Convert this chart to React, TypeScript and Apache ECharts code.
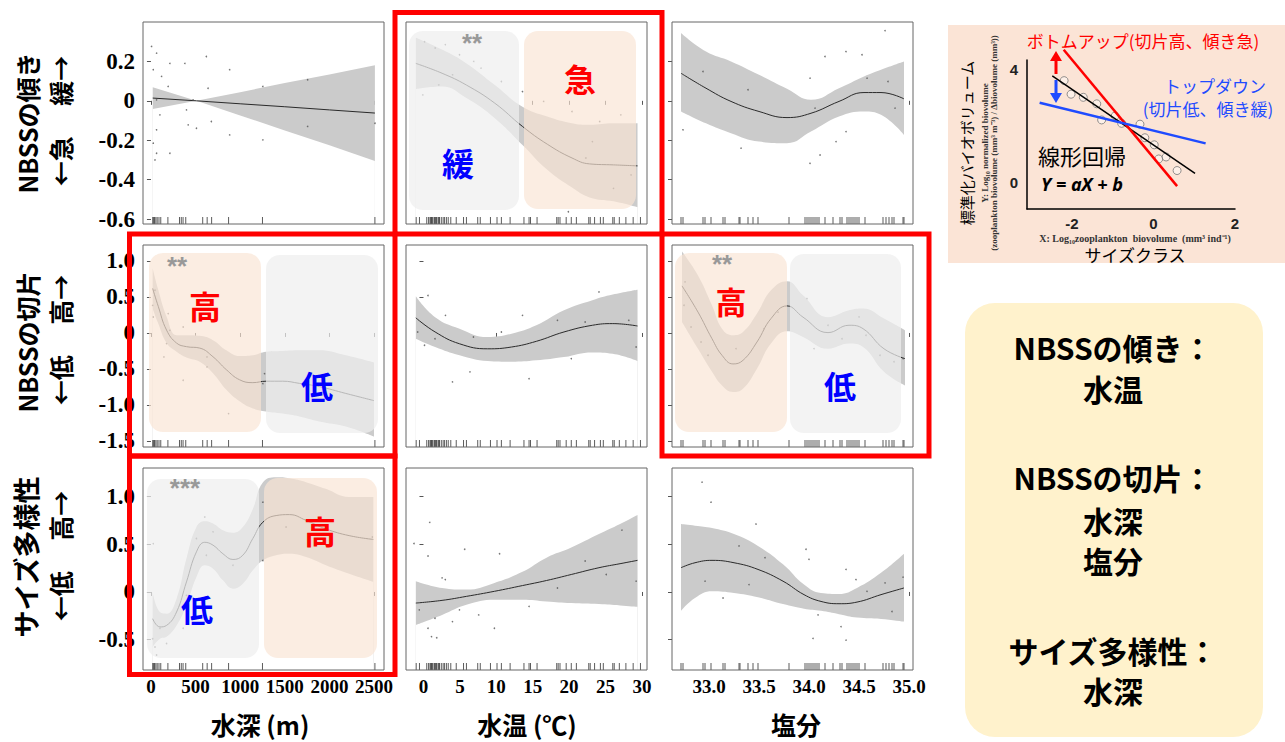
import React, { useEffect, useRef } from "react";
import * as echarts from "echarts";

// ---------- tick labels ----------
const depthTicks = [0, 500, 1000, 1500, 2000, 2500];
const tempTicks = [0, 5, 10, 15, 20, 25, 30];
const salTicks = [33.0, 33.5, 34.0, 34.5, 35.0];
const slopeTicks = [-0.6, -0.4, -0.2, 0, 0.2];
const interceptTicks = [-1.5, -1.0, -0.5, 0, 0.5, 1.0];
const diversityTicks = [-0.5, 0, 0.5, 1.0];

// ---------- rugs (observations) ----------
const depthRug = [20, 30, 40, 55, 70, 90, 110, 190, 320, 340, 360, 390, 580, 630, 680, 870, 1250, 2510];
const tempRug = [-1.0, -0.55, 0.45, 0.7, 0.9, 1.0, 1.1, 1.2, 1.3, 1.5, 1.6, 1.7, 1.8, 2.0, 2.1, 2.2, 2.45, 2.7, 2.9, 3.15, 3.4, 3.75, 4.5, 5.5, 5.9, 7.45, 7.8, 9.2, 10.1, 10.7, 11.9, 13.8, 14.5, 14.7, 15.6, 18.3, 18.5, 18.75, 19.6, 20.3, 21.0, 22.7, 22.9, 23.5, 24.3, 24.7, 26.0, 26.2, 26.9, 27.8, 28.8, 29.8];
const salRug = [32.72, 32.74, 32.94, 32.96, 33.02, 33.14, 33.16, 33.30, 33.31, 33.39, 33.44, 33.49, 33.80, 33.96, 33.98, 34.00, 34.02, 34.04, 34.06, 34.08, 34.10, 34.16, 34.24, 34.31, 34.33, 34.38, 34.40, 34.42, 34.44, 34.46, 34.48, 34.50, 34.56, 34.74, 34.77, 34.80, 34.83, 34.85, 34.94, 34.95];

// ---------- Row 1: NBSS slope ----------
const slopeDepthX = [20, 510, 1000, 1500, 2000, 2510];
const slopeDepthFit = [0.014, 0, -0.015, -0.030, -0.046, -0.062];
const slopeDepthHi = [0.069, 0, 0.044, 0.090, 0.134, 0.181];
const slopeDepthLo = [-0.042, 0, -0.074, -0.150, -0.226, -0.305];
const slopeDepthPtsX = [7, 63, 26, 119, 63, 193, 212, 100, 63, 26, 63, 45, 212, 380, 398, 472, 417, 510, 621, 640, 677, 882, 882, 1254, 1254, 1756, 1756, 2511];
const slopeDepthPtsY = [0.276, 0.242, 0.158, 0.124, 0.005, 0.073, 0.19, -0.071, -0.147, -0.215, -0.266, -0.3, -0.266, 0.19, -0.046, 0.005, -0.122, -0.139, 0.225, 0.064, -0.105, 0.158, -0.173, 0.073, -0.198, 0.107, -0.13, -0.114];

const slopeTempX = [-1.05, 2.55, 5.9, 9.8, 13.6, 17.0, 20.4, 22.8, 26.1, 29.4];
const slopeTempFit = [0.19, 0.14, 0.08, -0.012, -0.13, -0.22, -0.29, -0.32, -0.325, -0.33];
const slopeTempHi = [0.32, 0.26, 0.19, 0.08, -0.03, -0.08, -0.114, -0.122, -0.114, -0.114];
const slopeTempLo = [0.06, 0.073, 0.014, -0.088, -0.224, -0.35, -0.44, -0.49, -0.51, -0.54];
const slopeTempPtsX = [0.15, 1.6, 3.0, 4.0, 2.1, -0.1, 4.95, 7.9, 10.7, 16.5, 20.4, 23.2, 24.2, 27.1, 28.5, 26.1, 19.9, 22.3, 13.6, 6.9];
const slopeTempPtsY = [0.30, 0.268, 0.285, 0.132, 0.081, 0.03, 0.234, 0.166, 0.098, -0.003, -0.054, -0.207, -0.105, -0.071, -0.376, -0.444, -0.563, -0.29, 0.047, 0.2];

const slopeSalX = [32.72, 32.97, 33.22, 33.50, 33.78, 34.02, 34.30, 34.55, 34.72, 34.95];
const slopeSalFit = [0.14, 0.064, -0.003, -0.054, -0.085, -0.063, -0.003, 0.042, 0.042, 0.01];
const slopeSalHi = [0.344, 0.25, 0.2, 0.132, 0.061, 0.005, 0.064, 0.124, 0.158, 0.2];
const slopeSalLo = [-0.054, -0.114, -0.164, -0.207, -0.215, -0.156, -0.08, -0.054, -0.071, -0.173];
const slopeSalPtsX = [34.76, 34.16, 34.37, 34.53, 34.01, 34.06, 34.11, 34.01, 34.27, 34.37, 34.86, 33.32, 32.74, 32.94, 33.39, 34.79, 34.58];
const slopeSalPtsY = [0.356, 0.225, 0.25, 0.234, 0.115, -0.037, -0.275, -0.317, -0.207, -0.156, -0.037, -0.24, -0.147, 0.149, 0.056, 0.098, 0.115];

// ---------- Row 2: NBSS intercept ----------
const intDepthX = [19, 82, 175, 287, 398, 547, 695, 845, 993, 1142, 1291, 1477, 1663, 1886, 2184, 2500];
const intDepthFit = [0.62, 0.37, 0.04, -0.14, -0.19, -0.21, -0.33, -0.51, -0.65, -0.69, -0.67, -0.67, -0.70, -0.745, -0.84, -0.94];
const intDepthHi = [0.90, 0.60, 0.23, -0.03, -0.03, -0.04, -0.10, -0.24, -0.32, -0.31, -0.26, -0.25, -0.24, -0.24, -0.31, -0.41];
const intDepthLo = [0.34, 0.13, -0.14, -0.26, -0.34, -0.40, -0.56, -0.79, -0.95, -1.05, -1.09, -1.12, -1.16, -1.23, -1.30, -1.44];
const intDepthPtsX = [19, 45, 26, 193, 212, 361, 361, 145, 175, 628, 870, 1254, 1273, 628];
const intDepthPtsY = [0.384, 0.593, 0.222, 0.269, 0.037, 0.083, -0.657, -0.333, -0.148, -0.472, -1.12, -0.704, -0.565, -0.333];

const intTempX = [-1.05, 1.6, 4.95, 8.8, 12.1, 15.5, 19.3, 23.2, 26.0, 29.4];
const intTempFit = [0.21, 0.014, -0.15, -0.22, -0.195, -0.116, 0.014, 0.107, 0.13, 0.097];
const intTempHi = [0.51, 0.22, 0.06, -0.056, -0.01, 0.107, 0.315, 0.455, 0.533, 0.60];
const intTempLo = [-0.08, -0.195, -0.31, -0.39, -0.40, -0.38, -0.334, -0.27, -0.29, -0.39];
const intTempPtsX = [-0.8, 0.14, 1.58, 0.62, 3.02, 3.98, 6.38, 6.86, 10.7, 13.6, 14.5, 18.4, 20.3, 22.2, 24.1, 28.2, 29.2];
const intTempPtsY = [0.014, -0.17, -0.08, 0.52, 0.245, -0.68, -0.54, -0.056, 0.014, 0.245, -0.635, 0.176, -0.357, 0.153, 0.57, 0.176, -0.195];

const intSalX = [32.73, 32.89, 33.03, 33.13, 33.24, 33.34, 33.48, 33.62, 33.78, 33.94, 34.19, 34.40, 34.54, 34.75, 34.96];
const intSalFit = [0.654, 0.29, -0.08, -0.31, -0.43, -0.38, -0.125, 0.2, 0.376, 0.22, 0.005, 0.107, 0.06, -0.22, -0.357];
const intSalHi = [1.13, 0.80, 0.385, 0.06, -0.03, 0.014, 0.27, 0.594, 0.72, 0.524, 0.22, 0.315, 0.34, 0.2, 0.037];
const intSalLo = [0.153, -0.22, -0.54, -0.73, -0.82, -0.775, -0.496, -0.148, 0.023, -0.056, -0.22, -0.148, -0.195, -0.54, -0.73];
const intSalPtsX = [32.75, 32.76, 32.82, 32.92, 32.99, 33.27, 33.55, 33.69, 33.98, 34.05, 34.19, 34.33, 34.50, 34.57, 34.71, 34.85, 34.94];
const intSalPtsY = [0.385, 0.71, 0.083, -0.125, -0.31, -0.218, 0.06, 0.29, 0.478, -0.218, 0.107, -0.08, 0.223, -0.032, -0.31, -0.40, -0.357];

// ---------- Row 3: size diversity ----------
const divDepthX = [19, 101, 175, 287, 398, 510, 603, 696, 807, 919, 1030, 1142, 1254, 1403, 1552, 1738, 1961, 2221, 2493];
const divDepthFit = [-0.28, -0.366, -0.35, -0.21, 0.105, 0.42, 0.52, 0.49, 0.40, 0.34, 0.385, 0.56, 0.73, 0.80, 0.81, 0.75, 0.66, 0.59, 0.55];
const divDepthHi = [0.0, -0.21, -0.227, -0.07, 0.35, 0.68, 0.74, 0.716, 0.645, 0.62, 0.68, 0.87, 1.145, 1.2, 1.19, 1.15, 1.08, 0.995, 0.995];
const divDepthLo = [-0.576, -0.49, -0.47, -0.35, -0.14, 0.157, 0.28, 0.244, 0.122, 0.035, 0.087, 0.227, 0.33, 0.384, 0.40, 0.366, 0.28, 0.19, 0.105];
const divDepthPtsX = [19, 45, 63, 101, 26, 175, 361, 398, 510, 621, 603, 696, 919, 1254, 1254, 1514, 2481];
const divDepthPtsY = [-0.49, -0.576, -0.66, -0.38, 0.506, -0.54, -0.38, -0.035, 0.56, 0.384, 0.785, 0.63, 0.28, 0.94, 0.33, 0.68, 0.576];

const divTempX = [-1.05, 2.55, 5.9, 9.75, 13.6, 16.9, 20.3, 24.1, 27.0, 29.4];
const divTempFit = [-0.116, -0.088, -0.046, 0.007, 0.067, 0.12, 0.183, 0.254, 0.296, 0.331];
const divTempHi = [0.113, 0.042, 0.025, 0.095, 0.211, 0.359, 0.465, 0.606, 0.711, 0.806];
const divTempLo = [-0.345, -0.24, -0.134, -0.081, -0.081, -0.099, -0.116, -0.127, -0.141, -0.155];
const divTempPtsX = [-1.3, 0.62, 0.86, -0.58, 0.62, 1.1, 1.82, 1.58, 2.55, 3.0, 3.98, 4.94, 5.66, 7.58, 9.74, 10.45, 14.5, 18.4, 22.2, 25.1, 27.25, 29.2];
const divTempPtsY = [0.507, 0.377, 0.729, -0.187, -0.38, -0.468, -0.479, -0.275, 0.148, 0.13, -0.31, -0.187, 0.447, -0.24, -0.38, 0.4, -0.151, 0.042, 0.324, 0.183, 0.648, 0.113];

const divSalX = [32.72, 32.86, 33.03, 33.25, 33.49, 33.74, 33.95, 34.12, 34.30, 34.48, 34.72, 34.95];
const divSalFit = [0.254, 0.306, 0.331, 0.306, 0.236, 0.113, -0.028, -0.099, -0.123, -0.106, -0.028, 0.042];
const divSalHi = [0.711, 0.694, 0.669, 0.606, 0.482, 0.289, 0.077, -0.011, -0.021, 0.042, 0.2, 0.4];
const divSalLo = [-0.197, -0.063, 0.007, -0.011, -0.056, -0.127, -0.176, -0.197, -0.232, -0.268, -0.282, -0.31];
const divSalPtsX = [32.93, 33.02, 32.96, 33.14, 33.30, 33.40, 33.47, 33.56, 33.97, 34.00, 34.04, 34.09, 34.32, 34.37, 34.37, 34.47, 34.58, 34.76, 34.83, 34.94];
const divSalPtsY = [1.15, 0.94, 0.113, -0.063, 0.482, 0.077, 0.711, 0.359, 0.447, 0.342, -0.486, -0.24, -0.363, -0.504, 0.236, 0.13, 0.007, 0.095, -0.204, 0.155];

// ---------- Inset (NBSS schematic) ----------
const insetPtsX = [-2.19, -2.02, -1.72, -1.39, -1.27, -0.94, -0.78, -0.33, -0.21, 0.02, 0.13, 0.31, 0.58];
const insetPtsY = [3.62, 3.14, 3.03, 2.80, 2.23, 2.37, 2.11, 2.08, 1.60, 1.35, 0.85, 0.92, 0.44];
const insetBlackX = [-2.48, 1.02];
const insetBlackY = [3.79, 0.34];
const insetRedX = [-2.20, 0.58];
const insetRedY = [4.71, -0.11];
const insetBlueX = [-2.79, 1.28];
const insetBlueY = [2.84, 1.40];
const insetXTicks = [-2, 0, 2];
const insetYTicks = [0, 4];

const FONT_JP = '"Noto Sans CJK JP", "Noto Sans", sans-serif';
const FONT_SERIF = '"Liberation Serif", "Times New Roman", serif';

const colLeft = [143, 406, 672];
const rowTop = [22, 245, 468];
const PW = 241;
const PH = 202;
const xRange = [[-89, 2612], [-2.4, 30.7], [32.63, 35.04]];
const yRange = [[-0.625, 0.40], [-1.584, 1.222], [-0.817, 1.298]];
const xTickSets = [depthTicks, tempTicks, salTicks];
const yTickSets = [slopeTicks, interceptTicks, diversityTicks];
const rugSets = [depthRug, tempRug, salRug];

const SM = 0.45;
const panels = [
  { x: slopeDepthX, fit: slopeDepthFit, hi: slopeDepthHi, lo: slopeDepthLo, px: slopeDepthPtsX, py: slopeDepthPtsY, smooth: false },
  { x: slopeTempX, fit: slopeTempFit, hi: slopeTempHi, lo: slopeTempLo, px: slopeTempPtsX, py: slopeTempPtsY, smooth: SM },
  { x: slopeSalX, fit: slopeSalFit, hi: slopeSalHi, lo: slopeSalLo, px: slopeSalPtsX, py: slopeSalPtsY, smooth: SM },
  { x: intDepthX, fit: intDepthFit, hi: intDepthHi, lo: intDepthLo, px: intDepthPtsX, py: intDepthPtsY, smooth: SM },
  { x: intTempX, fit: intTempFit, hi: intTempHi, lo: intTempLo, px: intTempPtsX, py: intTempPtsY, smooth: SM },
  { x: intSalX, fit: intSalFit, hi: intSalHi, lo: intSalLo, px: intSalPtsX, py: intSalPtsY, smooth: SM },
  { x: divDepthX, fit: divDepthFit, hi: divDepthHi, lo: divDepthLo, px: divDepthPtsX, py: divDepthPtsY, smooth: SM },
  { x: divTempX, fit: divTempFit, hi: divTempHi, lo: divTempLo, px: divTempPtsX, py: divTempPtsY, smooth: SM },
  { x: divSalX, fit: divSalFit, hi: divSalHi, lo: divSalLo, px: divSalPtsX, py: divSalPtsY, smooth: SM },
];

function txt(x: number, y: number, text: string, size: number, color: string, opts: any = {}) {
  return {
    type: "text",
    x,
    y,
    rotation: opts.rotation || 0,
    z: opts.z ?? 20,
    silent: true,
    style: {
      text,
      fill: color,
      fontSize: size,
      lineHeight: size,
      fontWeight: opts.weight || "bold",
      fontStyle: opts.italic ? "italic" : "normal",
      fontFamily: opts.family || FONT_JP,
      align: "center",
      verticalAlign: "middle",
      textAlign: "center",
      textVerticalAlign: "middle",
    },
  };
}

function roundBox(x: number, y: number, w: number, h: number, fill: string) {
  return { type: "rect", z: 10, silent: true, shape: { x, y, width: w, height: h, r: 14 }, style: { fill } };
}

function frame(x: number, y: number, w: number, h: number) {
  return { type: "rect", z: 30, silent: true, shape: { x, y, width: w, height: h }, style: { fill: "none", stroke: "#ff0000", lineWidth: 5 } };
}

function buildOption() {
  const grid: any[] = [];
  const xAxis: any[] = [];
  const yAxis: any[] = [];
  const series: any[] = [];
  const yTickFont = { fontFamily: FONT_SERIF, fontWeight: "bold", fontSize: 23, color: "#000" };
  const xTickFont = { fontFamily: FONT_SERIF, fontWeight: "bold", fontSize: 19, color: "#000" };

  panels.forEach((p, i) => {
    const row = Math.floor(i / 3);
    const col = i % 3;
    grid.push({ left: colLeft[col], top: rowTop[row], width: PW, height: PH, show: true, z: 4, borderColor: "#666", borderWidth: 1, backgroundColor: "transparent" });
    xAxis.push({
      type: "value", gridIndex: i, min: xRange[col][0], max: xRange[col][1],
      axisLine: { show: false }, splitLine: { show: false },
      axisTick: { show: true, customValues: xTickSets[col], length: 4, lineStyle: { color: "#555" } },
      axisLabel: {
        show: row === 2, customValues: xTickSets[col], margin: 7, ...xTickFont,
        formatter: (v: number) => (col === 2 ? v.toFixed(1) : String(v)),
      },
    });
    yAxis.push({
      type: "value", gridIndex: i, min: yRange[row][0], max: yRange[row][1],
      axisLine: { show: false }, splitLine: { show: false },
      axisTick: { show: true, customValues: yTickSets[row], length: 4, lineStyle: { color: "#555" } },
      axisLabel: {
        show: col === 0, customValues: yTickSets[row], margin: 8, ...yTickFont,
        formatter: (v: number) => (Math.abs(v) < 1e-9 ? "0" : v.toFixed(1)),
      },
    });
    const base = { xAxisIndex: i, yAxisIndex: i, silent: true, animation: false };
    // confidence band: upper bound filled grey down to the axis start, lower bound filled white
    series.push({
      ...base, type: "line", symbol: "none", smooth: p.smooth,
      lineStyle: { width: 0, opacity: 0 }, areaStyle: { color: "#cbcbcb", opacity: 1, origin: "start" },
      data: p.x.map((v, k) => [v, p.hi[k]]), z: 1,
    });
    series.push({
      ...base, type: "line", symbol: "none", smooth: p.smooth,
      lineStyle: { width: 0, opacity: 0 }, areaStyle: { color: "#ffffff", opacity: 1, origin: "start" },
      data: p.x.map((v, k) => [v, p.lo[k]]), z: 2,
    });
    series.push({
      ...base, type: "line", symbol: "none", smooth: p.smooth,
      lineStyle: { color: "#2a2a2a", width: 1 }, data: p.x.map((v, k) => [v, p.fit[k]]), z: 3,
    });
    series.push({
      ...base, type: "scatter", symbolSize: 1.6, itemStyle: { color: "#555" },
      data: p.px.map((v, k) => [v, p.py[k]]), z: 3,
    });
    series.push({
      ...base, type: "scatter", symbol: "rect", symbolSize: [1, 7], symbolOffset: [0, -3.5], clip: false,
      itemStyle: { color: "#333" }, data: rugSets[col].map((v) => [v, yRange[row][0]]), z: 3,
    });
  });

  // Inset schematic
  const ii = 9;
  grid.push({ left: 1027, top: 60, width: 208, height: 149, show: false });
  xAxis.push({
    type: "value", gridIndex: ii, min: -3.1, max: 2.0,
    axisLine: { show: true, onZero: false, lineStyle: { color: "#000", width: 1.5 } }, splitLine: { show: false }, axisTick: { show: false },
    axisLabel: { customValues: insetXTicks, margin: 7, fontSize: 15, fontWeight: "bold", color: "#222", fontFamily: "Liberation Sans, Arial, sans-serif" },
  });
  yAxis.push({
    type: "value", gridIndex: ii, min: -0.92, max: 4.35,
    axisLine: { show: true, onZero: false, lineStyle: { color: "#000", width: 1.5 } }, splitLine: { show: false }, axisTick: { show: false },
    axisLabel: { customValues: insetYTicks, margin: 9, fontSize: 15, fontWeight: "bold", color: "#222", fontFamily: "Liberation Sans, Arial, sans-serif" },
  });
  const ib = { xAxisIndex: ii, yAxisIndex: ii, silent: true };
  series.push({
    ...ib, type: "scatter", symbol: "circle", symbolSize: 8, z: 2,
    itemStyle: { color: "rgba(255,255,255,0.55)", borderColor: "#777", borderWidth: 1 },
    data: insetPtsX.map((v, k) => [v, insetPtsY[k]]),
  });
  series.push({ ...ib, type: "line", symbol: "none", clip: false, z: 3, lineStyle: { color: "#000", width: 1.5 }, data: insetBlackX.map((v, k) => [v, insetBlackY[k]]) });
  series.push({ ...ib, type: "line", symbol: "none", clip: false, z: 3, lineStyle: { color: "#ff0000", width: 2.5 }, data: insetRedX.map((v, k) => [v, insetRedY[k]]) });
  series.push({ ...ib, type: "line", symbol: "none", clip: false, z: 3, lineStyle: { color: "#1f4bff", width: 2.5 }, data: insetBlueX.map((v, k) => [v, insetBlueY[k]]) });

  const GRAY_BOX = "rgba(238,238,238,0.72)";
  const PEACH_BOX = "rgba(249,228,212,0.68)";
  const ASTER = "Liberation Sans, Arial, sans-serif";
  const graphic: any[] = [
    // inset background
    { type: "rect", z: -5, silent: true, shape: { x: 948, y: 25, width: 337, height: 238 }, style: { fill: "#fbe4d6" } },
    // yellow summary box
    { type: "rect", z: -5, silent: true, shape: { x: 965, y: 303, width: 298, height: 434, r: 30 }, style: { fill: "#fff2cc" } },

    // overlays: row1 col2
    roundBox(409, 31, 110, 179, GRAY_BOX),
    roundBox(524, 31, 112, 178, PEACH_BOX),
    // row2 col1
    roundBox(149, 253, 112, 179, PEACH_BOX),
    roundBox(266, 255, 112, 178, GRAY_BOX),
    // row2 col3
    roundBox(675, 253, 112, 179, PEACH_BOX),
    roundBox(790, 254, 111, 179, GRAY_BOX),
    // row3 col1
    roundBox(147, 479, 112, 179, GRAY_BOX),
    roundBox(264, 478, 113, 180, PEACH_BOX),

    txt(472, 43, "**", 26, "#999999", { family: ASTER }),
    txt(580, 78, "急", 32, "#ff0000"),
    txt(458, 162, "緩", 32, "#0000ff"),
    txt(177, 266, "**", 26, "#999999", { family: ASTER }),
    txt(205, 305, "高", 32, "#ff0000"),
    txt(317, 385, "低", 32, "#0000ff"),
    txt(722, 264, "**", 26, "#999999", { family: ASTER }),
    txt(731, 300, "高", 31, "#ff0000"),
    txt(840, 385, "低", 32, "#0000ff"),
    txt(185, 488, "***", 26, "#999999", { family: ASTER }),
    txt(320, 530, "高", 32, "#ff0000"),
    txt(197, 608, "低", 32, "#0000ff"),

    // red frames
    frame(395, 12.5, 267, 221.5),
    frame(129.5, 234, 265.5, 222),
    frame(662, 234, 267, 222),
    frame(129.5, 456, 265.5, 218.5),

    // row labels (rotated)
    txt(27, 123, "NBSSの傾き", 25, "#000", { rotation: Math.PI / 2 }),
    txt(60, 121, "←急\u3000 緩→", 25, "#000", { rotation: Math.PI / 2 }),
    txt(27, 342, "NBSSの切片", 25, "#000", { rotation: Math.PI / 2 }),
    txt(60, 340, "←低\u3000 高→", 25, "#000", { rotation: Math.PI / 2 }),
    txt(25, 557, "サイズ多様性", 27, "#000", { rotation: Math.PI / 2 }),
    txt(60, 556, "←低\u3000 高→", 25, "#000", { rotation: Math.PI / 2 }),

    // x axis titles
    txt(260, 724, "水深 (m)", 25, "#000"),
    txt(527, 724, "水温 (℃)", 25, "#000"),
    txt(796, 724, "塩分", 25, "#000"),

    // inset texts
    txt(1143, 40, "ボトムアップ(切片高、傾き急)", 17, "#ff0000", { weight: "normal" }),
    txt(1215, 85, "トップダウン", 17, "#1f4bff", { weight: "normal" }),
    txt(1208, 108, "(切片低、傾き緩)", 17, "#1f4bff", { weight: "normal" }),
    txt(1082, 155, "線形回帰", 22, "#000", { weight: "normal" }),
    txt(1082, 184, "Y = aX + b", 18, "#000", { italic: true, family: '"Noto Sans", sans-serif' }),
    txt(966, 143, "標準化バイオボリューム", 15, "#000", { rotation: Math.PI / 2, weight: "normal" }),
    txt(985, 143, "Y: Log₁₀ normalized biovolume", 9, "#333", { rotation: Math.PI / 2, family: FONT_SERIF }),
    txt(994, 143, "(zooplankton biovolume (mm³ m⁻³) / Δbiovolume (mm³))", 9, "#333", { rotation: Math.PI / 2, family: FONT_SERIF }),
    txt(1135, 238, "X: Log₁₀zooplankton  biovolume  (mm³ ind⁻¹)", 10, "#333", { family: FONT_SERIF }),
    txt(1135, 254, "サイズクラス", 17, "#000", { weight: "normal" }),
    { type: "line", z: 20, silent: true, shape: { x1: 1056, y1: 74, x2: 1056, y2: 59 }, style: { stroke: "#ff0000", lineWidth: 3 } },
    { type: "polygon", z: 20, silent: true, shape: { points: [[1050, 61], [1062, 61], [1056, 51]] }, style: { fill: "#ff0000" } },
    { type: "line", z: 20, silent: true, shape: { x1: 1056, y1: 80, x2: 1056, y2: 95 }, style: { stroke: "#1f4bff", lineWidth: 3 } },
    { type: "polygon", z: 20, silent: true, shape: { points: [[1050, 93], [1062, 93], [1056, 103]] }, style: { fill: "#1f4bff" } },

    // summary box texts
    txt(1113, 347, "NBSSの傾き：", 30, "#000"),
    txt(1113, 388, "水温", 30, "#000"),
    txt(1113, 477, "NBSSの切片：", 30, "#000"),
    txt(1113, 520, "水深", 30, "#000"),
    txt(1113, 560, "塩分", 30, "#000"),
    txt(1113, 650, "サイズ多様性：", 30, "#000"),
    txt(1113, 690, "水深", 30, "#000"),
  ];

  return { animation: false, backgroundColor: "#ffffff", grid, xAxis, yAxis, series, graphic };
}

export default function App() {
  const ref = useRef<HTMLDivElement>(null);
  useEffect(() => {
    const chart = echarts.init(ref.current!, null, { renderer: "svg" });
    chart.setOption(buildOption() as any);
    return () => chart.dispose();
  }, []);
  return (
    <div
      ref={ref}
      style={{ position: "fixed", left: 0, top: 0, width: 1285, height: 742, background: "#ffffff" }}
    />
  );
}
